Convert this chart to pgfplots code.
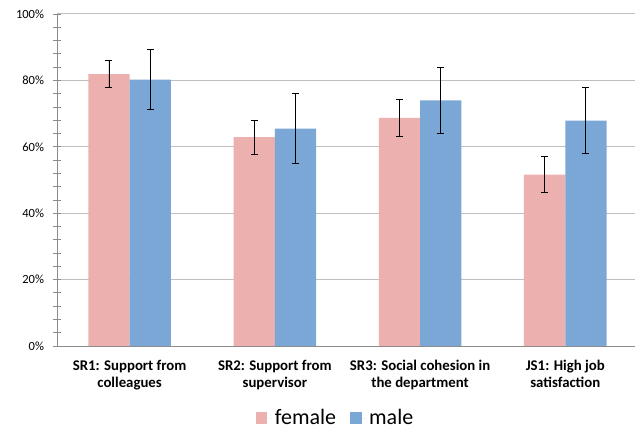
\documentclass[border=0pt]{standalone}
\usepackage{fontspec}
\setmainfont{Carlito}
\usepackage{pgfplots}
\pgfplotsset{compat=1.18}
\definecolor{fem}{HTML}{ECB1AE}
\definecolor{mal}{HTML}{7BA7D7}
\definecolor{gridc}{HTML}{BFBFBF}
\definecolor{axc}{HTML}{8C8C8C}
\begin{document}
\begin{tikzpicture}
\begin{axis}[
  at={(57bp,83bp)}, anchor=south west,
  scale only axis, width=578bp, height=332bp,
  xmin=-0.5, xmax=3.48, ymin=0, ymax=100,
  ybar=0pt, bar width=41.3bp,
  axis x line*=bottom, axis y line*=left,
  axis line style={draw=axc, line width=0.8pt},
  x axis line style={-}, y axis line style={-},
  xtick={0,1,2,3}, major x tick style={draw=none},
  xticklabels={{SR1: Support from\\colleagues},{SR2: Support from\\supervisor},{SR3: Social cohesion in\\the department},{JS1: High job\\satisfaction}},
  xticklabel style={align=center, font=\fontsize{14.8bp}{17bp}\selectfont\bfseries, yshift=-7bp},
  ytick={0,20,...,100}, minor ytick={4,8,12,16,24,28,32,36,44,48,52,56,64,68,72,76,84,88,92,96},
  yticklabel={\pgfmathprintnumber{\tick}\%},
  yticklabel style={font=\fontsize{12.5bp}{14bp}\selectfont, xshift=-6bp},
  /pgf/number format/assume math mode=true,
  tick align=center, major tick length=7bp, minor tick length=7bp,
  every tick/.style={draw=axc, line width=0.8pt},
  ymajorgrids, major grid style={draw=gridc, line width=1pt},
  legend style={draw=none, at={(0.482,-0.217)}, anchor=center, legend columns=2,
    font=\fontsize{22bp}{24bp}\selectfont, /tikz/every even column/.append style={column sep=12bp}},
  legend image code/.code={\fill[#1] (0bp,-5.8bp) rectangle (11.5bp,5.8bp); \path (0bp,0bp) -- (17bp,0bp);},
  error bars/error bar style={black, line width=0.9pt},
  error bars/error mark options={rotate=90, mark size=3.5bp, line width=0.9pt, black},
]
\addplot[fill=fem, draw=none, error bars/.cd, y dir=both, y explicit]
  coordinates {(0,81.9) +- (0,4.0) (1,62.9) +- (0,5.1) (2,68.7) +- (0,5.5) (3,51.6) +- (0,5.4)};
\addplot[fill=mal, draw=none, error bars/.cd, y dir=both, y explicit]
  coordinates {(0,80.2) +- (0,9.0) (1,65.5) +- (0,10.5) (2,74.0) +- (0,10.0) (3,67.9) +- (0,10.0)};
\legend{female, male}
\end{axis}
\pgfresetboundingbox
\path (0,0) rectangle (635bp,429bp);
\end{tikzpicture}
\end{document}
